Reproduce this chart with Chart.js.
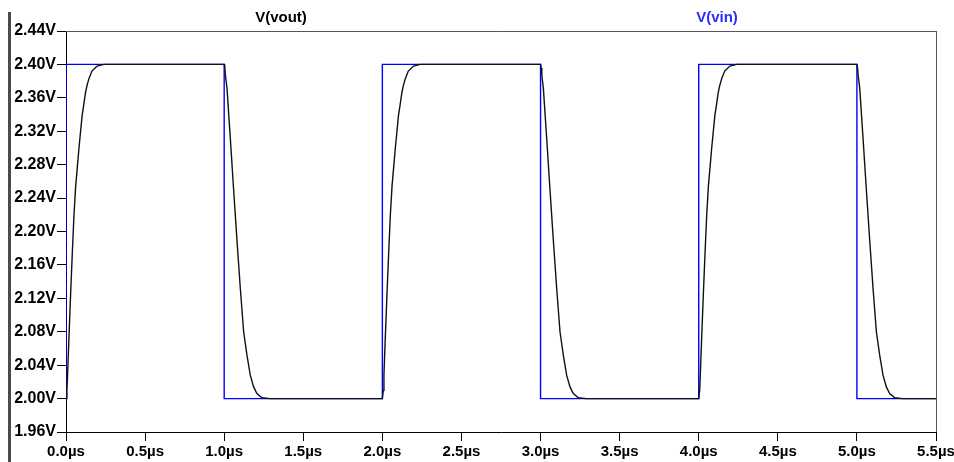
<!DOCTYPE html>
<html>
<head>
<meta charset="utf-8">
<script src="https://cdn.jsdelivr.net/npm/chart.js@4"></script>
<style>
  html, body { margin: 0; padding: 0; background: #ffffff; }
  #wrap { position: relative; width: 954px; height: 462px; }
  #bar { position: absolute; left: 8px; top: 12px; width: 3px; height: 450px; background: #4a4a4a; }
  canvas { position: absolute; left: 0; top: 0; }
</style>
</head>
<body>
<div id="wrap">
  <canvas id="c" width="954" height="462"></canvas>
  <div id="bar"></div>
</div>
<script>
// ---- data ----
const seriesNames = ["V(vout)", "V(vin)"];

const vinTime  = [0, 0, 1, 1, 2, 2, 3, 3, 4, 4, 5, 5, 5.5];
const vinVolts = [2.0, 2.4, 2.4, 2.0, 2.0, 2.4, 2.4, 2.0, 2.0, 2.4, 2.4, 2.0, 2.0];

const voutTime = [
  0.000, 0.006, 0.010, 0.018, 0.029, 0.039, 0.050, 0.061, 0.072, 0.082, 0.102, 0.111, 0.124, 0.133, 0.145, 0.164, 0.197, 0.240,
  1.000, 1.004, 1.008, 1.018, 1.039, 1.059, 1.080, 1.102, 1.123, 1.144, 1.165, 1.186, 1.207, 1.239, 1.290,
  2.000, 2.006, 2.010, 2.018, 2.029, 2.039, 2.050, 2.061, 2.072, 2.082, 2.102, 2.111, 2.124, 2.133, 2.145, 2.164, 2.197, 2.240,
  3.000, 3.004, 3.008, 3.018, 3.039, 3.059, 3.080, 3.102, 3.123, 3.144, 3.165, 3.186, 3.207, 3.239, 3.290,
  4.000, 4.006, 4.010, 4.018, 4.029, 4.039, 4.050, 4.061, 4.072, 4.082, 4.102, 4.111, 4.124, 4.133, 4.145, 4.164, 4.197, 4.240,
  5.000, 5.004, 5.008, 5.018, 5.039, 5.059, 5.080, 5.102, 5.123, 5.144, 5.165, 5.186, 5.207, 5.239, 5.290,
  5.500
];
const voutVolts = [
  2.000, 2.010, 2.029, 2.070, 2.124, 2.170, 2.218, 2.254, 2.278, 2.300, 2.339, 2.350, 2.367, 2.375, 2.383, 2.392, 2.398, 2.400,
  2.400, 2.396, 2.387, 2.371, 2.311, 2.252, 2.192, 2.132, 2.080, 2.052, 2.028, 2.014, 2.006, 2.001, 2.000,
  2.000, 2.010, 2.029, 2.070, 2.124, 2.170, 2.218, 2.254, 2.278, 2.300, 2.339, 2.350, 2.367, 2.375, 2.383, 2.392, 2.398, 2.400,
  2.400, 2.396, 2.387, 2.371, 2.311, 2.252, 2.192, 2.132, 2.080, 2.052, 2.028, 2.014, 2.006, 2.001, 2.000,
  2.000, 2.010, 2.029, 2.070, 2.124, 2.170, 2.218, 2.254, 2.278, 2.300, 2.339, 2.350, 2.367, 2.375, 2.383, 2.392, 2.398, 2.400,
  2.400, 2.396, 2.387, 2.371, 2.311, 2.252, 2.192, 2.132, 2.080, 2.052, 2.028, 2.014, 2.006, 2.001, 2.000,
  2.000
];

const yTicks = [1.96, 2.00, 2.04, 2.08, 2.12, 2.16, 2.20, 2.24, 2.28, 2.32, 2.36, 2.40, 2.44];
const xTicks = [0, 0.5, 1, 1.5, 2, 2.5, 3, 3.5, 4, 4.5, 5, 5.5];

// ---- build ----
const toPts = (t, v) => t.map((x, i) => ({ x: x, y: v[i] }));
const FAM = "'Liberation Sans', Arial, sans-serif";
const YFONT = { family: FAM, size: 16, weight: 'bold' };
const XFONT = { family: FAM, size: 15, weight: 'bold' };

const frameAndLabels = {
  id: 'frameAndLabels',
  afterDraw(chart) {
    const { ctx, chartArea: a } = chart;
    ctx.save();
    ctx.strokeStyle = '#555555';
    ctx.lineWidth = 1;
    ctx.beginPath();
    ctx.moveTo(a.left, Math.round(a.top) + 0.5);
    ctx.lineTo(a.right + 0.5, Math.round(a.top) + 0.5);
    ctx.moveTo(Math.round(a.right) + 0.5, a.top);
    ctx.lineTo(Math.round(a.right) + 0.5, a.bottom);
    ctx.stroke();
    ctx.font = `bold 15px ${FAM}`;
    ctx.textAlign = 'center';
    ctx.textBaseline = 'middle';
    ctx.fillStyle = '#000000';
    ctx.fillText(seriesNames[0], 281, 18);
    ctx.fillStyle = '#2b2bff';
    ctx.fillText(seriesNames[1], 717, 18);
    ctx.restore();
  }
};

new Chart(document.getElementById('c'), {
  type: 'scatter',
  data: {
    datasets: [
      { label: seriesNames[0], data: toPts(voutTime, voutVolts), showLine: true,
        borderColor: '#111111', borderWidth: 1.4, pointRadius: 0, tension: 0 },
      { label: seriesNames[1], data: toPts(vinTime, vinVolts), showLine: true,
        borderColor: '#0000ff', borderWidth: 1.4, pointRadius: 0, tension: 0 }
    ]
  },
  options: {
    responsive: false,
    animation: false,
    layout: { padding: { left: 0, right: 18, top: 31, bottom: 0 } },
    plugins: { legend: { display: false }, tooltip: { enabled: false } },
    scales: {
      x: {
        type: 'linear', min: 0, max: 5.5,
        afterBuildTicks: s => { s.ticks = xTicks.map(v => ({ value: v })); },
        afterFit: s => { s.height = 30; s.paddingLeft = 0; s.paddingRight = 0; },
        ticks: { font: XFONT, color: '#000000', padding: 2, maxRotation: 0,
                 callback: v => v.toFixed(1) + 'µs' },
        grid: { display: true, drawOnChartArea: false, drawTicks: true, tickLength: 9, color: '#000000' },
        border: { display: true, color: '#000000', width: 1 }
      },
      y: {
        type: 'linear', min: 1.96, max: 2.44,
        afterBuildTicks: s => { s.ticks = yTicks.map(v => ({ value: v })); },
        afterFit: s => { s.width = 66; s.paddingTop = 0; s.paddingBottom = 0; },
        ticks: { font: YFONT, color: '#000000', padding: 1,
                 callback: v => v.toFixed(2) + 'V' },
        grid: { display: true, drawOnChartArea: false, drawTicks: true, tickLength: 9, color: '#000000' },
        border: { display: true, color: '#000000', width: 1 }
      }
    }
  },
  plugins: [frameAndLabels]
});
</script>
</body>
</html>
